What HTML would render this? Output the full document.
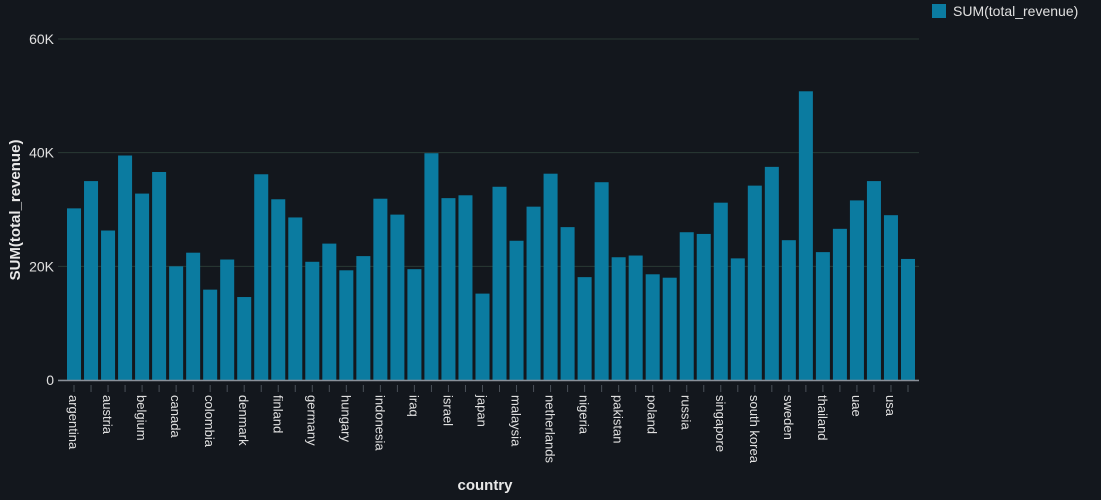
<!DOCTYPE html>
<html><head><meta charset="utf-8"><style>
html,body{margin:0;padding:0;background:#13171d;}
svg{display:block;font-family:"Liberation Sans",sans-serif;}
</style></head><body>
<svg id="chart" width="1101" height="500" viewBox="0 0 1101 500"></svg>
<script>
const categories=["argentina","australia","austria","bangladesh","belgium","brazil","canada","chile","colombia","czech republic","denmark","egypt","finland","france","germany","greece","hungary","india","indonesia","iran","iraq","ireland","israel","italy","japan","kenya","malaysia","mexico","netherlands","new zealand","nigeria","norway","pakistan","peru","poland","portugal","russia","saudi arabia","singapore","south africa","south korea","spain","sweden","switzerland","thailand","turkey","uae","uk","usa","vietnam"];
const revenue=[30200,35000,26300,39500,32800,36600,20000,22400,15900,21200,14600,36200,31800,28600,20800,24000,19300,21800,31900,29100,19500,39900,32000,32500,15200,34000,24500,30500,36300,26900,18100,34800,21600,21900,18600,18000,26000,25700,31200,21400,34200,37500,24600,50800,22500,26600,31600,35000,29000,21300];
const yTicks=[0,20000,40000,60000];
const yTickLabels=["0","20K","40K","60K"];
const svg=document.getElementById('chart');
const NS='http://www.w3.org/2000/svg';
const X0=65.5,X1=916.5,AX0=58,AX1=919,Y0=380,YTOP=39,YMAX=60000;
const band=(X1-X0)/categories.length;
const xs=i=>X0+band*i;
const ys=v=>Y0-(v/YMAX)*(Y0-YTOP);
function mk(tag,attrs,txt){const e=document.createElementNS(NS,tag);for(const k in attrs)e.setAttribute(k,attrs[k]);if(txt!==undefined)e.textContent=txt;svg.appendChild(e);return e;}
yTicks.forEach((t,i)=>{
  const g=mk('line',{x1:AX0,x2:AX1,y1:ys(t),y2:ys(t),stroke:'#2a3a34','stroke-width':1});
  
  
  const l=mk('text',{x:AX0-4,y:ys(t)+5,'text-anchor':'end',fill:'#e0e0e0','font-size':14},yTickLabels[i]);
  
  
});
categories.forEach((c,i)=>{
  const r=mk('rect',{x:xs(i)+1.5,y:ys(revenue[i]),width:band-3,height:Y0-ys(revenue[i]),fill:'#0b7ba0'});
  
  
  const cx=xs(i)+band/2;
  const tk=mk('line',{x1:cx,x2:cx,y1:Y0+5,y2:Y0+12,stroke:'#4a5058'});
  
  
  if(i%2===0){
    const t=mk('text',{x:0,y:0,fill:'#e0e0e0','font-size':13,transform:`translate(${cx-5},${Y0+15}) rotate(90)`},c);
    
    
  }
});
const ax=mk('line',{x1:AX0,x2:AX1,y1:Y0+0.5,y2:Y0+0.5,stroke:'#8a9099','stroke-width':1.5});


const xt=mk('text',{x:485,y:490,'text-anchor':'middle',fill:'#e8e8e8','font-size':15,'font-weight':'bold'},'country');


const yt=mk('text',{x:0,y:0,'text-anchor':'middle',fill:'#e8e8e8','font-size':15,'font-weight':'bold',transform:'translate(20,210) rotate(-90)'},'SUM(total_revenue)');


const ls=mk('rect',{x:932,y:4,width:14,height:14,fill:'#0b7ba0'});


const lt=mk('text',{x:953,y:16,fill:'#e0e0e0','font-size':14},'SUM(total_revenue)');


</script>
</body></html>
